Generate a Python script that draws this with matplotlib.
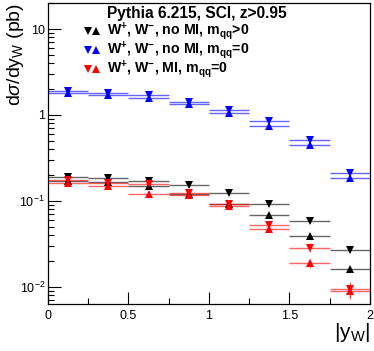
import numpy as np
import matplotlib
matplotlib.use("Agg")
import matplotlib.pyplot as plt
import matplotlib.colors as mcolors

plt.rcParams['font.family'] = ['Liberation Sans', 'DejaVu Sans']
plt.rcParams['mathtext.fontset'] = 'custom'
plt.rcParams['mathtext.rm'] = 'Liberation Sans'
plt.rcParams['mathtext.it'] = 'Liberation Sans:italic'
plt.rcParams['mathtext.bf'] = 'Liberation Sans:bold'

# ---- data ----
bin_centers = [0.125, 0.375, 0.625, 0.875, 1.125, 1.375, 1.625, 1.875]
bin_halfwidth = 0.125

# black: W+, W-, no MI, mqq>0
black_wminus = [0.188, 0.186, 0.169, 0.151, 0.125, 0.093, 0.058, 0.027]
black_wplus  = [0.169, 0.166, 0.148, 0.121, 0.091, 0.069, 0.039, 0.016]
black_relerr = [0.02, 0.02, 0.02, 0.03, 0.03, 0.04, 0.05, 0.06]
# blue: W+, W-, no MI, mqq=0
blue_wminus = [1.88, 1.80, 1.70, 1.43, 1.13, 0.85, 0.51, 0.213]
blue_wplus  = [1.80, 1.72, 1.56, 1.35, 1.06, 0.74, 0.45, 0.185]
blue_relerr = [0.02, 0.02, 0.02, 0.02, 0.03, 0.03, 0.04, 0.05]
# red: W+, W-, MI, mqq=0
red_wminus = [0.175, 0.160, 0.156, 0.124, 0.093, 0.052, 0.0286, 0.0095]
red_wplus  = [0.160, 0.150, 0.119, 0.118, 0.088, 0.047, 0.0187, 0.0090]
red_relerr = [0.04, 0.04, 0.05, 0.05, 0.06, 0.08, 0.12, 0.20]

series = [
    (r"W$^{\mathbf{+}}$, W$^{\mathbf{-}}$, no MI, m$_{\mathbf{qq}}$>0", "black",
     black_wminus, black_wplus, black_relerr),
    (r"W$^{\mathbf{+}}$, W$^{\mathbf{-}}$, no MI, m$_{\mathbf{qq}}$=0", "#0000ff",
     blue_wminus, blue_wplus, blue_relerr),
    (r"W$^{\mathbf{+}}$, W$^{\mathbf{-}}$, MI, m$_{\mathbf{qq}}$=0", "#ff0000",
     red_wminus, red_wplus, red_relerr),
]

ytick_vals = [0.01, 0.1, 1, 10]
ytick_labels = ["10$^{-2}$", "10$^{-1}$", "1", "10"]
xtick_vals = [0, 0.5, 1, 1.5, 2]
xtick_labels = ["0", "0.5", "1", "1.5", "2"]

# ---- figure ----
fig = plt.figure(figsize=(3.74, 3.51), dpi=100)
ax = fig.add_axes([0.128, 0.134, 0.861, 0.857])

for label, color, wm, wp, rerr in series:
    rgba = mcolors.to_rgba(color, 0.6)
    for vals in (wm, wp):
        vals = np.array(vals)
        ax.errorbar(bin_centers, vals, xerr=bin_halfwidth,
                    yerr=vals * np.array(rerr),
                    fmt='none', ecolor=rgba, elinewidth=1.0, capsize=0, zorder=2)
    ax.plot(bin_centers, wm, linestyle='none', marker='v', color=color,
            markersize=5.5, markeredgewidth=0, zorder=3)
    ax.plot(bin_centers, wp, linestyle='none', marker='^', color=color,
            markersize=5.5, markeredgewidth=0, zorder=3)

ax.set_yscale('log')
ax.set_xlim(0, 2)
ax.set_ylim(0.0063, 20)
ax.set_yticks(ytick_vals)
ax.set_yticklabels(ytick_labels)
ax.set_xticks(xtick_vals)
ax.set_xticklabels(xtick_labels)
ax.xaxis.set_minor_locator(matplotlib.ticker.MultipleLocator(0.25))
ax.yaxis.set_minor_locator(matplotlib.ticker.LogLocator(base=10, subs=np.arange(2, 10)))
ax.yaxis.set_minor_formatter(matplotlib.ticker.NullFormatter())
ax.tick_params(which='both', direction='in', top=False, right=False,
               labelsize=9, width=0.8, color='black')
ax.tick_params(which='major', length=9)
ax.tick_params(axis='x', which='major', pad=4)
ax.tick_params(axis='y', which='major', pad=2)
ax.tick_params(which='minor', length=4.5)
for sp in ax.spines.values():
    sp.set_linewidth(0.9)

# labels (ROOT style)
ax.text(-0.10, 1.0, r"d$\sigma$/dy$_{\mathrm{W}}$ (pb)", transform=ax.transAxes,
        rotation=90, ha='center', va='top', fontsize=14)
ax.text(1.0, -0.058, r"|y$_{\mathrm{W}}$|", transform=ax.transAxes,
        ha='right', va='top', fontsize=15)

# header and legend
ax.text(0.185, 0.965, "Pythia 6.215, SCI, z>0.95", transform=ax.transAxes,
        ha='left', va='center', fontsize=11.2, fontweight='bold')
row_y = [0.908, 0.845, 0.782]
for (label, color, wm, wp, rerr), yy in zip(series, row_y):
    ax.plot([0.126], [yy], marker='v', color=color, markersize=5.5,
            markeredgewidth=0, transform=ax.transAxes, clip_on=False)
    ax.plot([0.149], [yy], marker='^', color=color, markersize=5.5,
            markeredgewidth=0, transform=ax.transAxes, clip_on=False)
    ax.text(0.185, yy, label, transform=ax.transAxes, ha='left', va='center',
            fontsize=10.2, fontweight='bold')

fig.savefig("out.png", dpi=100)
